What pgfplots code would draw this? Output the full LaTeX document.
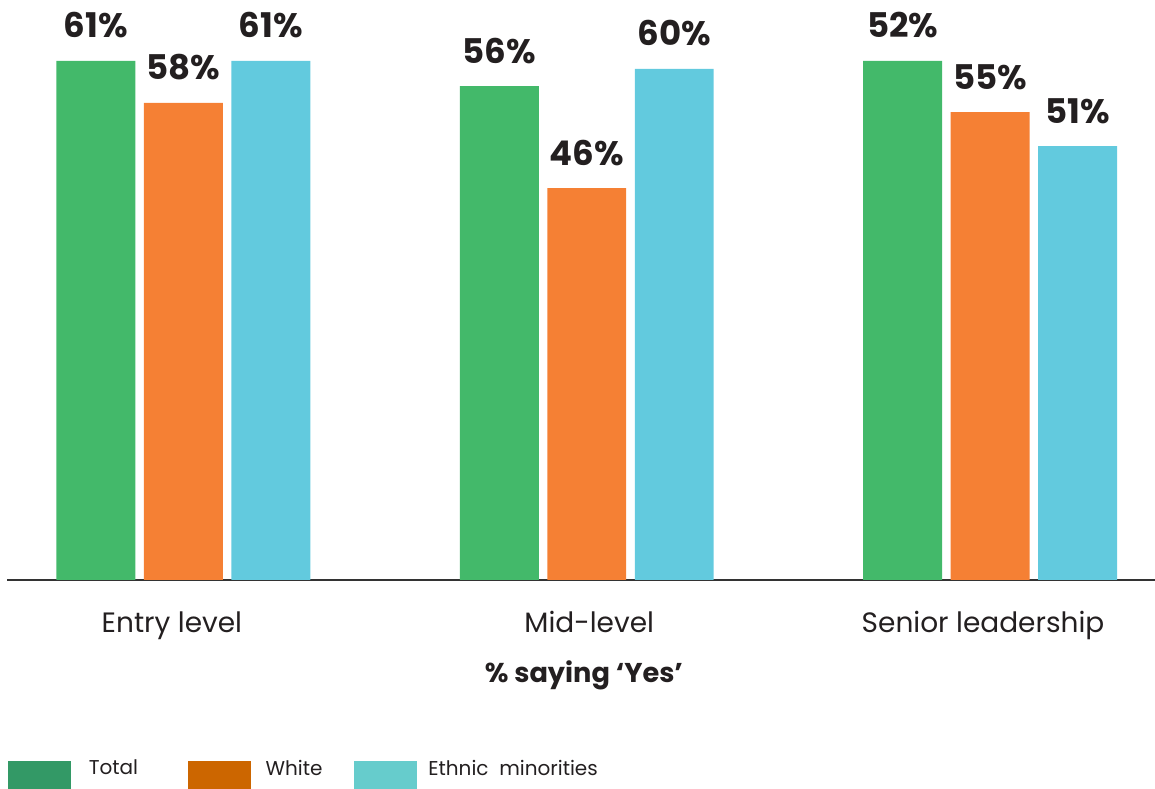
\documentclass[border=0pt]{standalone}
\usepackage{pgfplots}
\pgfplotsset{compat=1.18}
\usepackage{pgfplotstable}
\usepackage{fontspec}
\setmainfont{Poppins}
\definecolor{barG}{HTML}{43B96A}
\definecolor{barO}{HTML}{F58034}
\definecolor{barC}{HTML}{62CADE}
\definecolor{legG}{HTML}{339966}
\definecolor{legO}{HTML}{CC6600}
\definecolor{legC}{HTML}{66CCCC}
\definecolor{txt}{HTML}{231F20}
\definecolor{axl}{HTML}{333333}

% x = category index, h = drawn bar height, lab = printed label
\pgfplotstableread{
x h lab
0 61.00 61
1 58.06 56
2 61.00 52
}\total
\pgfplotstableread{
x h lab
0 56.07 58
1 46.07 46
2 55.00 55
}\white
\pgfplotstableread{
x h lab
0 61.00 61
1 60.06 60
2 51.00 51
}\ethnic

\begin{document}
\begin{tikzpicture}
\begin{axis}[
  name=ax,
  scale only axis, width=574pt, height=290pt,
  xmin=-0.4374, xmax=2.4089, ymin=0, ymax=68.17,
  axis x line=bottom, axis y line=none,
  axis line style={-, draw=axl, line width=0.65pt},
  xtick={-0.0285,1.0062,1.9826},
  xticklabels={Entry level, Mid-level, Senior leadership},
  major tick length=0pt,
  xticklabel style={font=\fontsize{14}{16}\selectfont, text=txt, anchor=base, yshift=-26.5pt},
  ytick=\empty,
  ybar, bar width=0.1958,
  clip=false,
  /pgf/number format/assume math mode=true,
  point meta=explicit,
  nodes near coords={\pgfmathprintnumber{\pgfplotspointmeta}\%},
  nodes near coords style={font=\bfseries\fontsize{17}{20}\selectfont, text=txt, anchor=base, yshift=11.5pt},
  xlabel={\bfseries\% saying ‘Yes’},
  xlabel style={at={(axis description cs:0.5026,0)}, anchor=base, yshift=-51.5pt, font=\fontsize{13.6}{16}\selectfont, text=txt},
  legend style={at={(axis description cs:0.00087,-0.36034)}, anchor=south west, draw=none, fill=none,
    inner sep=0pt, outer sep=0pt, legend columns=-1,
    font=\fontsize{10}{12}\selectfont, text=txt,
    /tikz/every odd column/.append style={column sep=9pt},
    /tikz/every even column/.append style={column sep=0pt},
    nodes={inner sep=0pt, anchor=west}},
]
\addplot[fill=barG, draw=none, bar shift=-0.2169, forget plot] table[x=x, y=h, meta=lab] {\total};
\addplot[fill=barO, draw=none, bar shift=0, forget plot] table[x=x, y=h, meta=lab] {\white};
\addplot[fill=barC, draw=none, bar shift=0.2169, forget plot] table[x=x, y=h, meta=lab] {\ethnic};
\addlegendimage{legend image code/.code={\fill[legG] (0pt,-9.75pt) rectangle (31pt,3.75pt);}}
\addlegendentry{\makebox[49.5pt][l]{Total}}
\addlegendimage{legend image code/.code={\fill[legO] (0pt,-9.75pt) rectangle (31pt,3.75pt);}}
\addlegendentry{\hspace*{-1.5pt}\makebox[44pt][l]{White}}
\addlegendimage{legend image code/.code={\fill[legC] (0pt,-9.75pt) rectangle (31pt,3.75pt);}}
\addlegendentry{\hspace*{-3pt}Ethnic\ \ minorities}
\end{axis}
\pgfresetboundingbox
\path ([xshift=-3.5pt,yshift=-104.5pt]ax.south west) rectangle (ax.north east);
\end{tikzpicture}
\end{document}
